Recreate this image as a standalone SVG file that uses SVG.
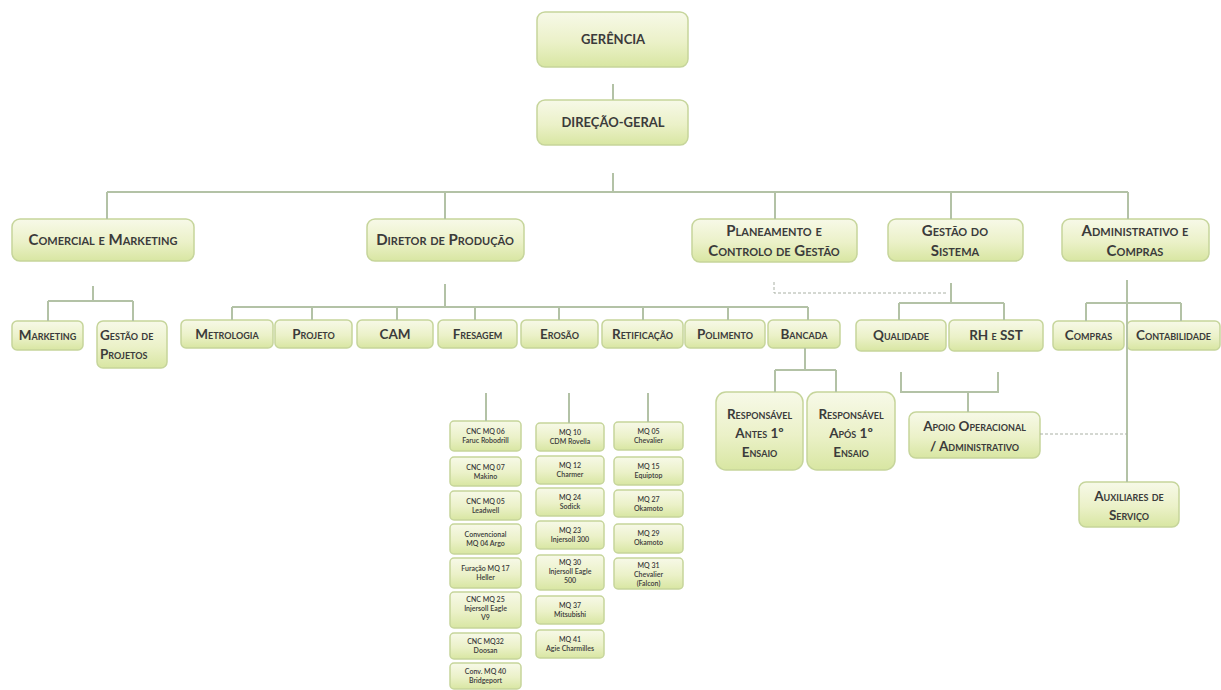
<svg xmlns="http://www.w3.org/2000/svg" width="1221" height="690" viewBox="0 0 1221 690">
<defs>
<linearGradient id="g" x1="0" y1="0" x2="0" y2="1">
<stop offset="0" stop-color="#f7f9e8"/>
<stop offset="0.55" stop-color="#ebf1c8"/>
<stop offset="1" stop-color="#d8e6a2"/>
</linearGradient>
<style>
.b{fill:url(#g);stroke:#c6d59b;stroke-width:1.5}
.t{font-family:Lato,"Liberation Sans",sans-serif;font-weight:700;fill:#3b3b3b;text-anchor:middle}
.h{font-size:13px}
.s{font-variant:small-caps;font-size:15px}
.s2{font-variant:small-caps;font-size:13.5px}
.m{font-size:7px;font-weight:600}
.c{fill:none;stroke:#b3c2a6;stroke-width:2}
.d{fill:none;stroke:#a9b0a4;stroke-width:1;stroke-dasharray:3 2}
</style>
</defs>
<rect width="1221" height="690" fill="#ffffff"/>
<g id="nodes">
<g id="gerencia"><rect class="b" x="537" y="12" width="151" height="55" rx="8"/><text class="t h" x="613" y="44">GERÊNCIA</text></g>
<g id="direcao"><rect class="b" x="537" y="100" width="151" height="45" rx="8"/><text class="t h" x="613" y="127">DIREÇÃO-GERAL</text></g>
<g id="comercial"><rect class="b" x="12" y="219" width="182" height="42" rx="8"/><text class="t s" x="103" y="245">Comercial e Marketing</text></g>
<g id="diretor"><rect class="b" x="367" y="219" width="157" height="42" rx="8"/><text class="t s" x="445" y="245">Diretor de Produção</text></g>
<g id="planeamento"><rect class="b" x="692" y="219" width="165" height="43" rx="8"/><text class="t s" x="774" y="236">Planeamento e</text><text class="t s" x="774" y="256">Controlo de Gestão</text></g>
<g id="gestao-sistema"><rect class="b" x="888" y="219" width="135" height="42" rx="8"/><text class="t s" x="955" y="236">Gestão do</text><text class="t s" x="955" y="256">Sistema</text></g>
<g id="administrativo"><rect class="b" x="1062" y="219" width="147" height="42" rx="8"/><text class="t s" x="1135" y="236">Administrativo e</text><text class="t s" x="1135" y="256">Compras</text></g>

<g id="marketing"><rect class="b" x="12" y="321" width="71" height="29" rx="5"/><text class="t s2" x="47.5" y="340">Marketing</text></g>
<g id="gestao-projetos"><rect class="b" x="97" y="321" width="70" height="47" rx="6"/><text class="t s2" x="100" y="340" style="text-anchor:start">Gestão de</text><text class="t s2" x="100" y="359" style="text-anchor:start">Projetos</text></g>
<g id="metrologia"><rect class="b" x="181" y="320" width="92" height="28" rx="5"/><text class="t s2" x="227" y="339">Metrologia</text></g>
<g id="projeto"><rect class="b" x="275" y="320" width="77" height="28" rx="5"/><text class="t s2" x="313.5" y="339">Projeto</text></g>
<g id="cam"><rect class="b" x="357" y="320" width="76" height="28" rx="5"/><text class="t s2" x="395" y="339">CAM</text></g>
<g id="fresagem"><rect class="b" x="438" y="320" width="79" height="28" rx="5"/><text class="t s2" x="477.5" y="339">Fresagem</text></g>
<g id="erosao"><rect class="b" x="521" y="320" width="77" height="28" rx="5"/><text class="t s2" x="559.5" y="339">Erosão</text></g>
<g id="retificacao"><rect class="b" x="602" y="320" width="81" height="28" rx="5"/><text class="t s2" x="642.5" y="339">Retificação</text></g>
<g id="polimento"><rect class="b" x="685" y="320" width="80" height="28" rx="5"/><text class="t s2" x="725" y="339">Polimento</text></g>
<g id="bancada"><rect class="b" x="768" y="320" width="72" height="28" rx="5"/><text class="t s2" x="804" y="339">Bancada</text></g>
<g id="qualidade"><rect class="b" x="856" y="320" width="90" height="31" rx="5"/><text class="t s2" x="901" y="340">Qualidade</text></g>
<g id="rh-sst"><rect class="b" x="949" y="320" width="94" height="31" rx="5"/><text class="t s2" x="996" y="340">RH e SST</text></g>
<g id="compras"><rect class="b" x="1053" y="321" width="71" height="29" rx="5"/><text class="t s2" x="1088.5" y="340">Compras</text></g>
<g id="contabilidade"><rect class="b" x="1127" y="321" width="93" height="29" rx="5"/><text class="t s2" x="1173.5" y="340">Contabilidade</text></g>

<g id="resp-antes"><rect class="b" x="716" y="392" width="87" height="78" rx="10"/><text class="t s2" x="759.5" y="419">Responsável</text><text class="t s2" x="759.5" y="438">Antes 1º</text><text class="t s2" x="759.5" y="457">Ensaio</text></g>
<g id="resp-apos"><rect class="b" x="807" y="392" width="88" height="78" rx="10"/><text class="t s2" x="851" y="419">Responsável</text><text class="t s2" x="851" y="438">Após 1º</text><text class="t s2" x="851" y="457">Ensaio</text></g>
<g id="apoio"><rect class="b" x="909" y="412" width="131" height="46" rx="7"/><text class="t s2" x="974.5" y="431">Apoio Operacional</text><text class="t s2" x="974.5" y="451">/ Administrativo</text></g>
<g id="auxiliares"><rect class="b" x="1079" y="482" width="100" height="45" rx="7"/><text class="t s2" x="1129" y="501">Auxiliares de</text><text class="t s2" x="1129" y="520">Serviço</text></g>

<g id="mq06"><rect class="b" x="450" y="421" width="71" height="30" rx="4"/><text class="t m" x="485.5" y="434">CNC MQ 06</text><text class="t m" x="485.5" y="443">Faruc Robodrill</text></g>
<g id="mq07"><rect class="b" x="450" y="457" width="71" height="29" rx="4"/><text class="t m" x="485.5" y="470">CNC MQ 07</text><text class="t m" x="485.5" y="479">Makino</text></g>
<g id="mq05a"><rect class="b" x="450" y="491" width="71" height="29" rx="4"/><text class="t m" x="485.5" y="504">CNC MQ 05</text><text class="t m" x="485.5" y="513">Leadwell</text></g>
<g id="mq04"><rect class="b" x="450" y="524" width="71" height="30" rx="4"/><text class="t m" x="485.5" y="537">Convencional</text><text class="t m" x="485.5" y="546">MQ 04 Argo</text></g>
<g id="mq17"><rect class="b" x="450" y="558" width="71" height="30" rx="4"/><text class="t m" x="485.5" y="571">Furação MQ 17</text><text class="t m" x="485.5" y="580">Heller</text></g>
<g id="mq25"><rect class="b" x="450" y="592" width="71" height="36" rx="4"/><text class="t m" x="485.5" y="602">CNC MQ 25</text><text class="t m" x="485.5" y="611">Injersoll Eagle</text><text class="t m" x="485.5" y="620">V9</text></g>
<g id="mq32"><rect class="b" x="450" y="633" width="71" height="26" rx="4"/><text class="t m" x="485.5" y="644">CNC MQ32</text><text class="t m" x="485.5" y="653">Doosan</text></g>
<g id="mq40"><rect class="b" x="450" y="663" width="71" height="26" rx="4"/><text class="t m" x="485.5" y="674">Conv. MQ 40</text><text class="t m" x="485.5" y="683">Bridgeport</text></g>

<g id="mq10"><rect class="b" x="536" y="423" width="68" height="28" rx="4"/><text class="t m" x="570" y="435">MQ 10</text><text class="t m" x="570" y="444">CDM Rovella</text></g>
<g id="mq12"><rect class="b" x="536" y="456" width="68" height="28" rx="4"/><text class="t m" x="570" y="468">MQ 12</text><text class="t m" x="570" y="477">Charmer</text></g>
<g id="mq24"><rect class="b" x="536" y="488" width="68" height="28" rx="4"/><text class="t m" x="570" y="500">MQ 24</text><text class="t m" x="570" y="509">Sodick</text></g>
<g id="mq23"><rect class="b" x="536" y="521" width="68" height="28" rx="4"/><text class="t m" x="570" y="533">MQ 23</text><text class="t m" x="570" y="542">Injersoll 300</text></g>
<g id="mq30"><rect class="b" x="536" y="555" width="68" height="35" rx="4"/><text class="t m" x="570" y="565">MQ 30</text><text class="t m" x="570" y="574">Injersoll Eagle</text><text class="t m" x="570" y="583">500</text></g>
<g id="mq37"><rect class="b" x="536" y="596" width="68" height="28" rx="4"/><text class="t m" x="570" y="608">MQ 37</text><text class="t m" x="570" y="617">Mitsubishi</text></g>
<g id="mq41"><rect class="b" x="536" y="630" width="68" height="28" rx="4"/><text class="t m" x="570" y="642">MQ 41</text><text class="t m" x="570" y="651">Agie Charmilles</text></g>

<g id="mq05b"><rect class="b" x="614" y="422" width="69" height="28" rx="4"/><text class="t m" x="648.5" y="434">MQ 05</text><text class="t m" x="648.5" y="443">Chevalier</text></g>
<g id="mq15"><rect class="b" x="614" y="457" width="69" height="28" rx="4"/><text class="t m" x="648.5" y="469">MQ 15</text><text class="t m" x="648.5" y="478">Equiptop</text></g>
<g id="mq27"><rect class="b" x="614" y="490" width="69" height="27" rx="4"/><text class="t m" x="648.5" y="502">MQ 27</text><text class="t m" x="648.5" y="511">Okamoto</text></g>
<g id="mq29"><rect class="b" x="614" y="524" width="69" height="29" rx="4"/><text class="t m" x="648.5" y="536">MQ 29</text><text class="t m" x="648.5" y="545">Okamoto</text></g>
<g id="mq31"><rect class="b" x="614" y="558" width="69" height="31" rx="4"/><text class="t m" x="648.5" y="568">MQ 31</text><text class="t m" x="648.5" y="577">Chevalier</text><text class="t m" x="648.5" y="586">(Falcon)</text></g>
</g>
<g id="connectors">
<path class="c" d="M613 84V100M613 173V192M107 192H1128M107 192V219M445 192V219M775 192V219M951 192V219M1128 192V219"/>
<path class="c" d="M93 286V301M48 301H133M48 301V321M133 301V321"/>
<path class="c" d="M445 284V307M232 307H808M232 307V320M312 307V320M397 307V320M475 307V320M559 307V320M643 307V320M728 307V320M808 307V320"/>
<path class="c" d="M805 348V370M775 370H836M775 370V392M836 370V392"/>
<path class="c" d="M951 283V303M899 303H1004M899 303V320M1004 303V320"/>
<path class="c" d="M901 372V392H998V372M968 392V412"/>
<path class="c" d="M1127 280V482M1086 303H1181M1086 303V321M1181 303V321"/>
<path class="c" d="M486 393V421M569 393V423M648 393V422"/>
<path class="d" d="M774 282V293H946"/>
<path class="d" d="M1040 434H1127"/>
</g>
</svg>
